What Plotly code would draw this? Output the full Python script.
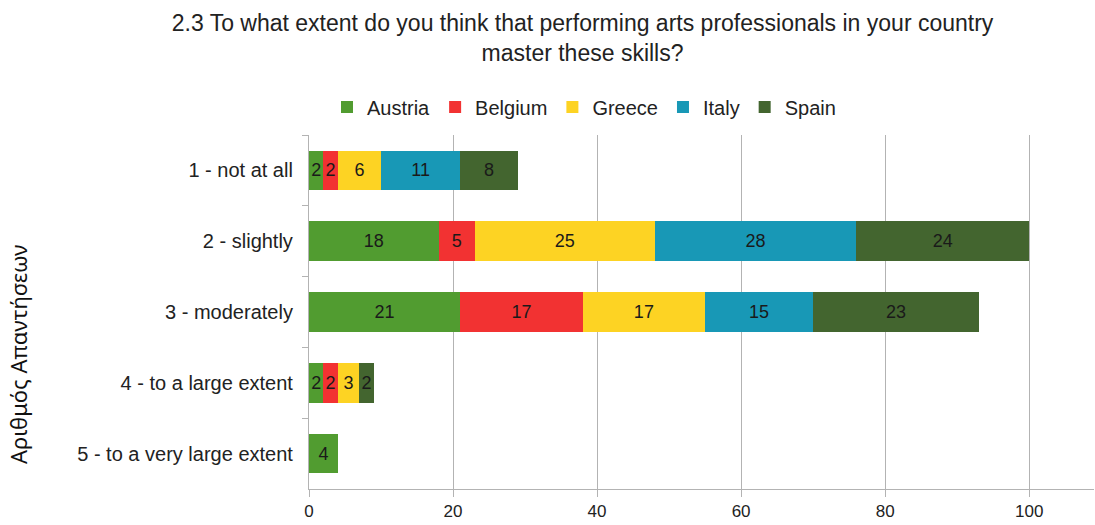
import plotly.graph_objects as go

categories = ["1 - not at all", "2 - slightly", "3 - moderately",
              "4 - to a large extent", "5 - to a very large extent"]
countries = ["Austria", "Belgium", "Greece", "Italy", "Spain"]
austria = [2, 18, 21, 2, 4]
belgium = [2, 5, 17, 2, 0]
greece = [6, 25, 17, 3, 0]
italy = [11, 28, 15, 0, 0]
spain = [8, 24, 23, 2, 0]
colors = ["#519c30", "#f23232", "#fdd323", "#1898b6", "#43652f"]
x_ticks = [0, 20, 40, 60, 80, 100]

series = [austria, belgium, greece, italy, spain]

fig = go.Figure()
for name, vals, col in zip(countries, series, colors):
    fig.add_trace(go.Bar(
        y=categories, x=[v if v else None for v in vals], name=name, orientation="h",
        marker=dict(color=col, line=dict(width=0)),
        text=[str(v) if v else "" for v in vals], textposition="inside",
        insidetextanchor="middle", textangle=0,
        textfont=dict(family="Liberation Sans", size=18, color="#1a1a1a"),
        cliponaxis=False,
    ))

fig.update_layout(
    width=1095, height=525,
    barmode="stack", bargap=0.44,
    uniformtext=dict(minsize=18, mode="show"),
    plot_bgcolor="white", paper_bgcolor="white",
    margin=dict(l=309, r=1, t=135, b=36, autoexpand=False),
    font=dict(family="Liberation Sans", color="#333333"),
    title=dict(
        text="2.3 To what extent do you think that performing arts professionals in your country<br>master these skills?",
        x=0.532, xanchor="center", y=0.941, yanchor="middle",
        font=dict(family="Liberation Sans", size=23, color="#222222"),
    ),
    legend=dict(
        orientation="h", x=(584 - 309) / 785, xanchor="center", y=1.079, yanchor="middle",
        font=dict(family="Liberation Sans", size=20, color="#222222"),
        traceorder="normal", itemwidth=30,
    ),
    showlegend=True,
)
fig.update_xaxes(
    range=[0, 109], tickvals=x_ticks, ticktext=[str(t) for t in x_ticks],
    showgrid=True, gridcolor="#b3b3b3", gridwidth=1,
    showline=True, linecolor="#b3b3b3", linewidth=1,
    ticks="outside", ticklen=7, tickcolor="#b3b3b3",
    tickfont=dict(family="Liberation Sans", size=17, color="#222222"),
    zeroline=False, mirror=False,
)
fig.update_yaxes(
    categoryorder="array", categoryarray=categories, autorange="reversed",
    showgrid=False, showline=True, linecolor="#b3b3b3", linewidth=1,
    ticks="outside", ticklen=6, tickcolor="#b3b3b3", tickson="boundaries",
    tickfont=dict(family="Liberation Sans", size=20, color="#222222"),
    ticksuffix="  ",
)
fig.add_annotation(
    text="Αριθμός Απαντήσεων", textangle=-90,
    xref="paper", yref="paper", x=(18 - 309) / 785, y=(489 - 355) / 354,
    xanchor="center", yanchor="middle", showarrow=False,
    font=dict(family="Noto Sans", size=22, color="#111111"),
)

fig.write_html("out.html", config={"displayModeBar": False},
               post_script="document.body.style.margin='0';")
